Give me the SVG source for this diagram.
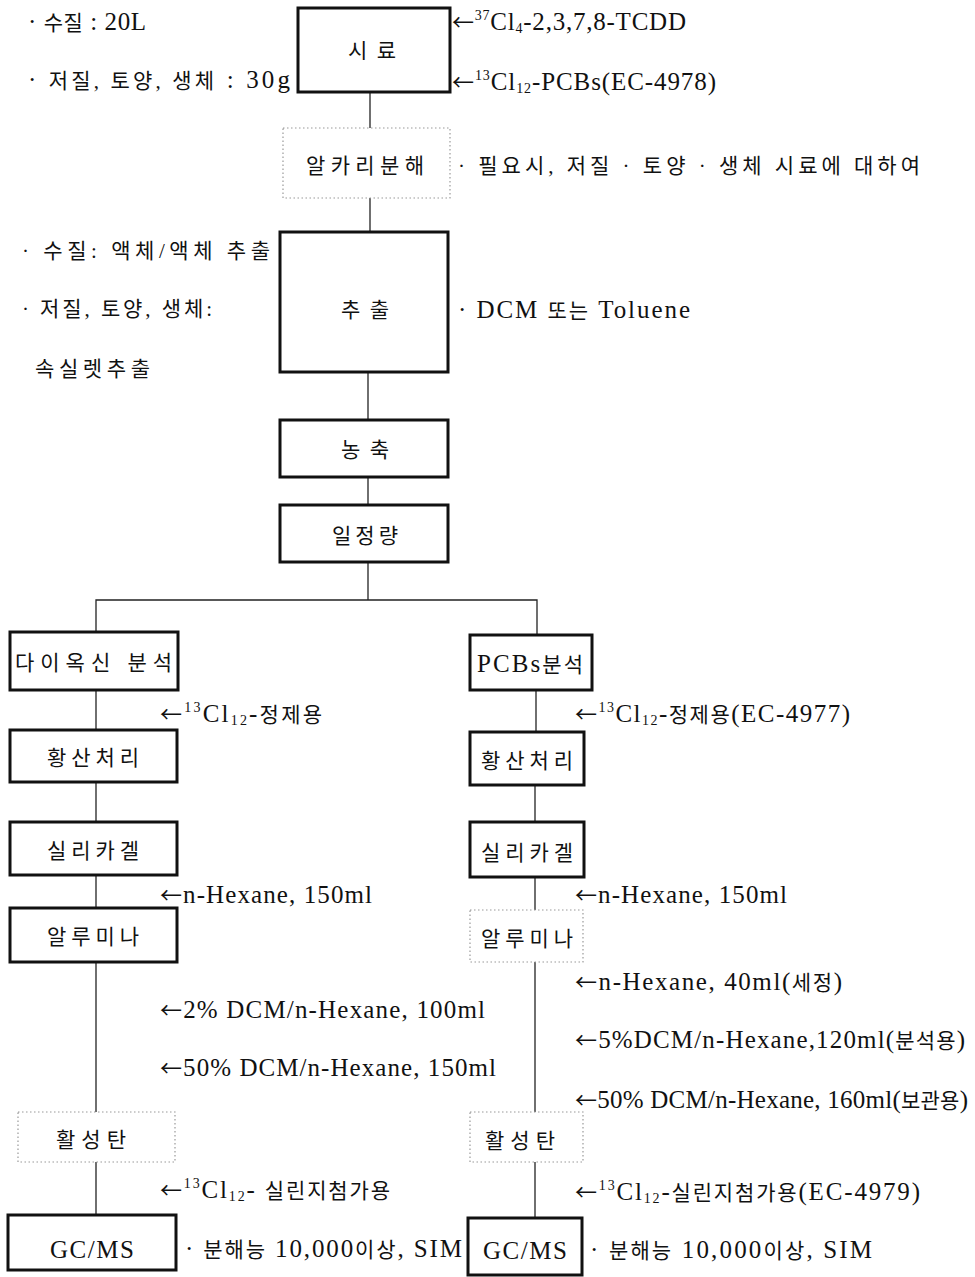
<svg xmlns="http://www.w3.org/2000/svg" width="975" height="1277" viewBox="0 0 975 1277">
<style>
text{font-family:"Liberation Serif","Noto Sans CJK KR",serif;font-size:25px;fill:#111}
.k{font-size:21px}
.c{text-anchor:middle}
.solid{fill:#fff;stroke:#111;stroke-width:3}
.dot{fill:#fff;stroke:#999;stroke-width:1.2;stroke-dasharray:1.5 2.5}
.ln{stroke:#222;stroke-width:1.3;fill:none}
.sup{font-size:14px}
.ar{font-family:"Noto Sans CJK KR",sans-serif;font-size:22px}
</style>
<rect width="975" height="1277" fill="#fff"/>
<g id="connectors">
<line class="ln" x1="370" y1="92" x2="370" y2="128"/>
<line class="ln" x1="370" y1="198" x2="370" y2="232"/>
<line class="ln" x1="368" y1="372" x2="368" y2="420"/>
<line class="ln" x1="368" y1="477" x2="368" y2="505"/>
<line class="ln" x1="368" y1="562" x2="368" y2="600"/>
<polyline class="ln" points="96,632 96,600 537,600 537,635"/>
<line class="ln" x1="96" y1="690" x2="96" y2="730"/>
<line class="ln" x1="96" y1="782" x2="96" y2="822"/>
<line class="ln" x1="96" y1="875" x2="96" y2="908"/>
<line class="ln" x1="96" y1="962" x2="96" y2="1112"/>
<line class="ln" x1="96" y1="1162" x2="96" y2="1215"/>
<line class="ln" x1="536" y1="690" x2="536" y2="732"/>
<line class="ln" x1="535" y1="785" x2="535" y2="822"/>
<line class="ln" x1="535" y1="877" x2="535" y2="910"/>
<line class="ln" x1="535" y1="962" x2="535" y2="1112"/>
<line class="ln" x1="535" y1="1162" x2="535" y2="1218"/>
</g>
<g id="n-sample">
<rect class="solid" x="298" y="8" width="152" height="84"/>
<text class="c k" x="372" y="58" textLength="48" lengthAdjust="spacing">시료</text>
</g>
<g id="n-alkali">
<rect class="dot" x="283" y="128" width="167" height="70"/>
<text class="c k" x="365" y="173" textLength="118" lengthAdjust="spacing">알카리분해</text>
</g>
<g id="n-extract">
<rect class="solid" x="280" y="232" width="168" height="140"/>
<text class="c k" x="365" y="317" textLength="48" lengthAdjust="spacing">추출</text>
</g>
<g id="n-conc">
<rect class="solid" x="280" y="420" width="168" height="57"/>
<text class="c k" x="365" y="457" textLength="48" lengthAdjust="spacing">농축</text>
</g>
<g id="n-vol">
<rect class="solid" x="280" y="505" width="168" height="57"/>
<text class="c k" x="365" y="543" textLength="66" lengthAdjust="spacing">일정량</text>
</g>
<g id="n-dioxin">
<rect class="solid" x="10" y="632" width="168" height="58"/>
<text class="k" x="15" y="670" textLength="157" lengthAdjust="spacing">다이옥신 분석</text>
</g>
<g id="n-l-acid">
<rect class="solid" x="10" y="730" width="167" height="52"/>
<text class="c k" x="93" y="765" textLength="92" lengthAdjust="spacing">황산처리</text>
</g>
<g id="n-l-silica">
<rect class="solid" x="10" y="822" width="167" height="53"/>
<text class="c k" x="93" y="858" textLength="92" lengthAdjust="spacing">실리카겔</text>
</g>
<g id="n-l-alumina">
<rect class="solid" x="10" y="908" width="167" height="54"/>
<text class="c k" x="93" y="944" textLength="92" lengthAdjust="spacing">알루미나</text>
</g>
<g id="n-l-carbon">
<rect class="dot" x="18" y="1112" width="157" height="50"/>
<text class="c k" x="91" y="1147" textLength="70" lengthAdjust="spacing">활성탄</text>
</g>
<g id="n-l-gcms">
<rect class="solid" x="8" y="1215" width="168" height="55"/>
<text class="c" x="92" y="1258" textLength="84" lengthAdjust="spacing">GC/MS</text>
</g>
<g id="n-pcb">
<rect class="solid" x="470" y="635" width="122" height="55"/>
<text x="477" y="672" textLength="106" lengthAdjust="spacing">PCBs<tspan class="k">분석</tspan></text>
</g>
<g id="n-r-acid">
<rect class="solid" x="470" y="732" width="114" height="53"/>
<text class="c k" x="527" y="768" textLength="92" lengthAdjust="spacing">황산처리</text>
</g>
<g id="n-r-silica">
<rect class="solid" x="470" y="822" width="114" height="55"/>
<text class="c k" x="527" y="860" textLength="92" lengthAdjust="spacing">실리카겔</text>
</g>
<g id="n-r-alumina">
<rect class="dot" x="470" y="910" width="113" height="52"/>
<text class="c k" x="527" y="946" textLength="92" lengthAdjust="spacing">알루미나</text>
</g>
<g id="n-r-carbon">
<rect class="dot" x="470" y="1112" width="113" height="50"/>
<text class="c k" x="520" y="1148" textLength="70" lengthAdjust="spacing">활성탄</text>
</g>
<g id="n-r-gcms">
<rect class="solid" x="468" y="1218" width="114" height="57"/>
<text class="c" x="525" y="1259" textLength="84" lengthAdjust="spacing">GC/MS</text>
</g>
<g id="labels">
<text x="28" y="30" textLength="118" lengthAdjust="spacing">· <tspan class="k">수질</tspan> : 20L</text>
<text x="28" y="88" textLength="262" lengthAdjust="spacing">· <tspan class="k">저질, 토양, 생체</tspan> : 30g</text>
<text x="452" y="30" textLength="234" lengthAdjust="spacing"><tspan class="ar">←</tspan><tspan class="sup" dy="-10">37</tspan><tspan dy="10">Cl</tspan><tspan class="sup" dy="3">4</tspan><tspan dy="-3">-2,3,7,8-TCDD</tspan></text>
<text x="452" y="90" textLength="264" lengthAdjust="spacing"><tspan class="ar">←</tspan><tspan class="sup" dy="-10">13</tspan><tspan dy="10">Cl</tspan><tspan class="sup" dy="3">12</tspan><tspan dy="-3">-PCBs(EC-4978)</tspan></text>
<text class="k" x="458" y="173" textLength="462" lengthAdjust="spacing">· 필요시, 저질 · 토양 · 생체 시료에 대하여</text>
<text class="k" x="22" y="258" textLength="248" lengthAdjust="spacing">· 수질: 액체/액체 추출</text>
<text class="k" x="22" y="316" textLength="190" lengthAdjust="spacing">· 저질, 토양, 생체:</text>
<text class="k" x="35" y="376" textLength="115" lengthAdjust="spacing">속실렛추출</text>
<text x="458" y="318" textLength="232" lengthAdjust="spacing">· DCM <tspan class="k">또는</tspan> Toluene</text>
<text x="160" y="722" textLength="162" lengthAdjust="spacing"><tspan class="ar">←</tspan><tspan class="sup" dy="-10">13</tspan><tspan dy="10">Cl</tspan><tspan class="sup" dy="3">12</tspan><tspan dy="-3">-</tspan><tspan class="k">정제용</tspan></text>
<text x="160" y="903" textLength="212" lengthAdjust="spacing"><tspan class="ar">←</tspan>n-Hexane, 150ml</text>
<text x="160" y="1018" textLength="325" lengthAdjust="spacing"><tspan class="ar">←</tspan>2% DCM/n-Hexane, 100ml</text>
<text x="160" y="1076" textLength="336" lengthAdjust="spacing"><tspan class="ar">←</tspan>50% DCM/n-Hexane, 150ml</text>
<text x="160" y="1198" textLength="230" lengthAdjust="spacing"><tspan class="ar">←</tspan><tspan class="sup" dy="-10">13</tspan><tspan dy="10">Cl</tspan><tspan class="sup" dy="3">12</tspan><tspan dy="-3">- </tspan><tspan class="k">실린지첨가용</tspan></text>
<text x="185" y="1257" textLength="277" lengthAdjust="spacing">· <tspan class="k">분해능</tspan> 10,000<tspan class="k">이상</tspan>, SIM</text>
<text x="575" y="722" textLength="275" lengthAdjust="spacing"><tspan class="ar">←</tspan><tspan class="sup" dy="-10">13</tspan><tspan dy="10">Cl</tspan><tspan class="sup" dy="3">12</tspan><tspan dy="-3">-</tspan><tspan class="k">정제용</tspan>(EC-4977)</text>
<text x="575" y="903" textLength="212" lengthAdjust="spacing"><tspan class="ar">←</tspan>n-Hexane, 150ml</text>
<text x="575" y="990" textLength="267" lengthAdjust="spacing"><tspan class="ar">←</tspan>n-Hexane, 40ml(<tspan class="k">세정</tspan>)</text>
<text x="575" y="1048" textLength="390" lengthAdjust="spacing"><tspan class="ar">←</tspan>5%DCM/n-Hexane,120ml(<tspan class="k">분석용</tspan>)</text>
<text x="575" y="1108" textLength="393" lengthAdjust="spacing"><tspan class="ar">←</tspan>50% DCM/n-Hexane, 160ml(<tspan class="k">보관용</tspan>)</text>
<text x="575" y="1200" textLength="345" lengthAdjust="spacing"><tspan class="ar">←</tspan><tspan class="sup" dy="-10">13</tspan><tspan dy="10">Cl</tspan><tspan class="sup" dy="3">12</tspan><tspan dy="-3">-</tspan><tspan class="k">실린지첨가용</tspan>(EC-4979)</text>
<text x="590" y="1258" textLength="282" lengthAdjust="spacing">· <tspan class="k">분해능</tspan> 10,000<tspan class="k">이상</tspan>, SIM</text>
</g>
</svg>
